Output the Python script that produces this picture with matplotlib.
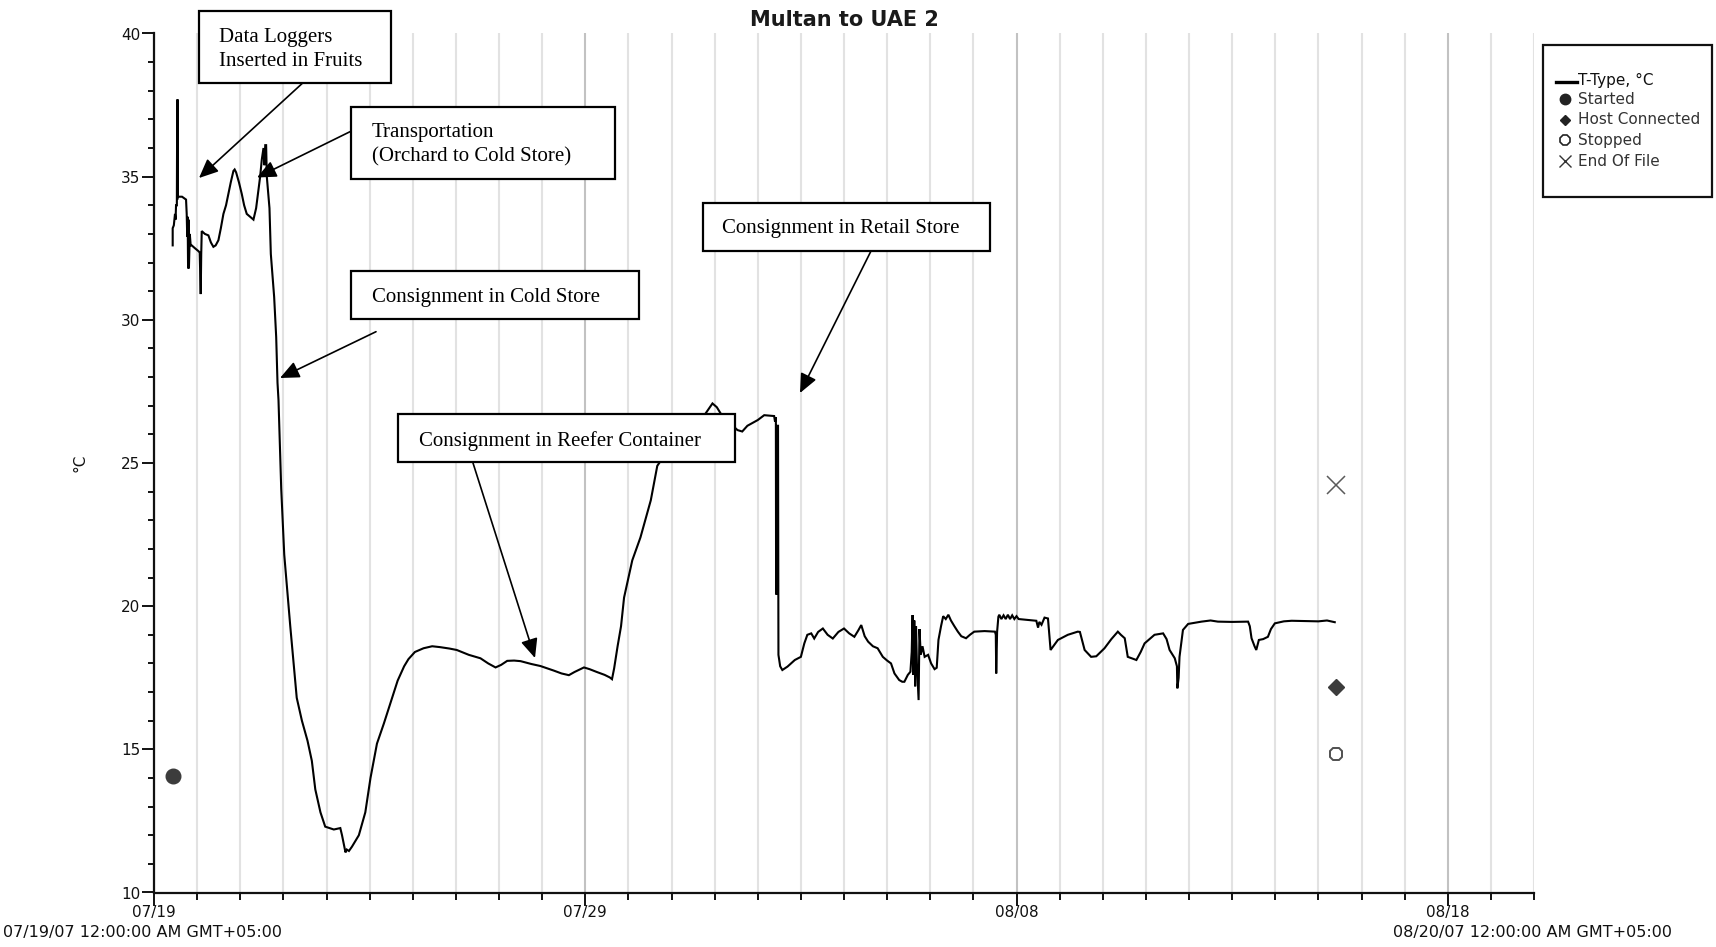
import numpy as np
import matplotlib
matplotlib.use("Agg")
import matplotlib.pyplot as plt
import matplotlib.dates as mdates
import matplotlib.ticker as mticker
from matplotlib.patches import Rectangle, FancyArrowPatch
from matplotlib.lines import Line2D

# ---------------------------------------------------------------- data
start_date = "2007-07-19"
end_date = "2007-08-20"
title = "Multan to UAE 2"
y_label = "°C"

# elapsed time since 07/19 00:00 (days) and logger temperature (°C)
elapsed_days = [
    0.433, 0.433, 0.46, 0.487, 0.50, 0.511, 0.53, 0.535, 0.54, 0.545, 0.55, 0.565,
    0.65, 0.743, 0.758, 0.77, 0.78, 0.79, 0.80, 0.81, 0.83, 0.851, 0.874, 0.95,
    1.03, 1.06, 1.083, 1.095, 1.107, 1.18, 1.261, 1.32, 1.377, 1.43, 1.494, 1.55,
    1.61, 1.67, 1.726, 1.78, 1.842, 1.87, 1.904, 1.97, 2.035, 2.09, 2.151, 2.23,
    2.306, 2.368, 2.42, 2.461, 2.50, 2.539, 2.56, 2.58, 2.60, 2.616, 2.65, 2.678,
    2.709, 2.75, 2.786, 2.833, 2.864, 2.887, 2.92, 2.95, 2.99, 3.02, 3.07, 3.16,
    3.25, 3.31, 3.43, 3.56, 3.66, 3.74, 3.86, 3.97, 4.17, 4.32, 4.36, 4.40, 4.44,
    4.47, 4.52, 4.59, 4.75, 4.90, 5.02, 5.17, 5.33, 5.48, 5.65, 5.80, 5.90, 6.05,
    6.25, 6.45, 6.63, 6.85, 7.02, 7.30, 7.57, 7.75, 7.92, 8.05, 8.19, 8.35, 8.50,
    8.75, 8.96, 9.27, 9.45, 9.62, 9.75, 9.97, 10.10, 10.27, 10.45, 10.57, 10.62,
    10.67, 10.75, 10.83, 10.90, 11.09, 11.28, 11.52, 11.67, 11.85, 12.05, 12.30,
    12.55, 12.79, 12.95, 13.05, 13.14, 13.35, 13.53, 13.64, 13.76, 14.00, 14.15,
    14.38, 14.40, 14.42, 14.425, 14.43, 14.435, 14.44, 14.445, 14.45, 14.47,
    14.48, 14.52, 14.57, 14.69, 14.86, 15.00, 15.08, 15.15, 15.24, 15.31, 15.40,
    15.51, 15.62, 15.74, 15.87, 16.00, 16.12, 16.24, 16.33, 16.40, 16.48, 16.56,
    16.67, 16.78, 16.90, 17.00, 17.09, 17.17, 17.28, 17.35, 17.40, 17.48, 17.54,
    17.57, 17.59, 17.61, 17.63, 17.65, 17.67, 17.69, 17.73, 17.75, 17.78, 17.82,
    17.87, 17.95, 18.02, 18.10, 18.15, 18.19, 18.25, 18.30, 18.36, 18.42, 18.48,
    18.56, 18.64, 18.72, 18.83, 18.92, 19.02, 19.26, 19.50, 19.52, 19.53, 19.55,
    19.58, 19.60, 19.65, 19.70, 19.75, 19.80, 19.85, 19.90, 19.95, 20.00, 20.05,
    20.46, 20.50, 20.53, 20.58, 20.65, 20.73, 20.79, 20.96, 21.19, 21.42, 21.47,
    21.58, 21.73, 21.85, 22.04, 22.20, 22.35, 22.42, 22.51, 22.58, 22.78, 22.88,
    22.97, 23.20, 23.40, 23.48, 23.55, 23.67, 23.72, 23.73, 23.76, 23.78, 23.86,
    23.98, 24.29, 24.50, 24.67, 25.00, 25.37, 25.41, 25.45, 25.52, 25.56, 25.62,
    25.72, 25.83, 25.90, 25.99, 26.20, 26.38, 26.70, 27.00, 27.20, 27.38,
]
temp_c = [
    32.6, 33.2, 33.3, 33.7, 33.5, 34.0, 34.0, 36.1, 34.2, 37.7, 34.3, 34.3,
    34.3, 34.2, 33.7, 32.9, 33.6, 31.8, 33.5, 31.8, 33.0, 32.6, 32.6, 32.5,
    32.4, 32.35, 30.9, 32.3, 33.1, 33.0, 32.95, 32.7, 32.55, 32.6, 32.78, 33.2,
    33.7, 34.0, 34.4, 34.8, 35.2, 35.25, 35.15, 34.8, 34.4, 34.0, 33.7, 33.6,
    33.5, 33.9, 34.5, 35.0, 35.6, 36.0, 35.4, 36.1, 36.1, 35.0, 34.4, 33.9,
    32.3, 31.5, 30.8, 29.4, 27.8, 27.2, 25.6, 24.1, 22.75, 21.8, 20.9, 19.3,
    17.8, 16.8, 16.0, 15.3, 14.6, 13.6, 12.8, 12.3, 12.2, 12.25, 12.0, 11.7, 11.4,
    11.5, 11.45, 11.6, 12.0, 12.8, 14.0, 15.2, 15.9, 16.6, 17.4, 17.9, 18.15, 18.4,
    18.53, 18.6, 18.57, 18.52, 18.47, 18.3, 18.18, 18.0, 17.86, 17.95, 18.09, 18.1, 18.08,
    17.98, 17.91, 17.75, 17.65, 17.59, 17.7, 17.86, 17.8, 17.7, 17.6, 17.51, 17.45,
    17.83, 18.6, 19.3, 20.3, 21.6, 22.4, 23.7, 24.9, 25.3, 25.7, 26.0,
    26.3, 26.73, 27.08, 26.95, 26.73, 26.4, 26.15, 26.1, 26.3, 26.5, 26.67,
    26.64, 26.45, 26.6, 21.0, 24.0, 20.4, 23.5, 21.3, 26.3, 26.3,
    18.3, 17.9, 17.77, 17.89, 18.12, 18.23, 18.7, 19.0, 19.05, 18.87, 19.1,
    19.22, 19.0, 18.87, 19.1, 19.22, 19.05, 18.93, 19.15, 19.34, 18.95, 18.76,
    18.6, 18.53, 18.23, 18.1, 18.0, 17.65, 17.42, 17.36, 17.36, 17.6, 17.71,
    18.4, 19.69, 17.6, 19.5, 17.2, 19.3, 18.0, 16.72, 19.2, 18.3, 18.6,
    18.23, 18.3, 18.0, 17.8, 17.85, 18.82, 19.3, 19.65, 19.55, 19.7, 19.5,
    19.3, 19.11, 18.95, 18.88, 19.0, 19.11, 19.13, 19.11, 19.0, 17.65, 19.1,
    19.63, 19.7, 19.55, 19.68, 19.55, 19.7, 19.55, 19.68, 19.55, 19.65, 19.55,
    19.49, 19.25, 19.45, 19.35, 19.6, 19.57, 18.47, 18.82, 19.0, 19.11, 19.1,
    18.47, 18.23, 18.25, 18.53, 18.85, 19.11, 19.0, 18.88, 18.23, 18.12, 18.4,
    18.7, 19.0, 19.05, 18.85, 18.47, 18.18, 17.9, 17.13, 17.5, 18.23, 19.17,
    19.38, 19.46, 19.5, 19.46, 19.45, 19.46, 19.3, 18.88, 18.6, 18.47, 18.82,
    18.85, 18.93, 19.2, 19.4, 19.47, 19.49, 19.48, 19.47, 19.5, 19.44,
]

# logger events: (elapsed days, plotted level °C)
event_names = ["Started", "Host Connected", "Stopped", "End Of File"]
event_days = [0.433, 27.40, 27.40, 27.40]
event_temp = [14.07, 17.19, 14.83, 24.23]

major_tick_dates = ["2007-07-19", "2007-07-29", "2007-08-08", "2007-08-18"]
y_ticks = [10, 15, 20, 25, 30, 35, 40]
start_stamp = "07/19/07 12:00:00 AM GMT+05:00"
end_stamp = "08/20/07 12:00:00 AM GMT+05:00"

# phase call-outs: text lines
callouts = [
    ["Data Loggers", "Inserted in Fruits"],
    ["Transportation", "(Orchard to Cold Store)"],
    ["Consignment in Cold Store"],
    ["Consignment in Reefer Container"],
    ["Consignment in Retail Store"],
]

# ---------------------------------------------------------------- helpers
W, H = 1716, 947
base = np.datetime64(start_date + "T00:00")


def to_time(days):
    mins = np.round(np.asarray(days, dtype=float) * 1440).astype("timedelta64[m]")
    return base + mins


def fx(x):
    return x / W


def fy(y):
    return 1 - y / H


# ---------------------------------------------------------------- figure
plt.rcParams["font.family"] = ["DejaVu Sans"]
fig = plt.figure(figsize=(W / 100, H / 100), dpi=100)
ax = fig.add_axes([fx(154), fy(892.5), (1534 - 154) / W, (892.5 - 33.5) / H])

t = to_time(elapsed_days)
ax.plot(t, temp_c, color="black", lw=1.5, zorder=3, solid_joinstyle="miter")

ev_t = to_time(event_days)
ev_styles = [
    dict(marker="o", ms=10.5, mfc="#3c3c3c", mec="#3c3c3c"),
    dict(marker="D", ms=8.5, mfc="#3c3c3c", mec="#3c3c3c"),
    dict(marker="8", ms=10, mfc="white", mec="#505050", mew=1.4),
    dict(marker="x", ms=13, mfc="none", mec="#5a5a5a", mew=1.1),
]
for tt, yy, st in zip(ev_t, event_temp, ev_styles):
    ax.plot([tt], [yy], linestyle="none", zorder=4, **st)

ax.set_xlim(np.datetime64(start_date), np.datetime64(end_date))
ax.set_ylim(min(y_ticks), max(y_ticks))

major_nums = mdates.date2num(np.array(major_tick_dates, dtype="datetime64[D]"))
ax.xaxis.set_major_locator(mticker.FixedLocator(major_nums))
ax.xaxis.set_major_formatter(mdates.DateFormatter("%m/%d"))
ax.xaxis.set_minor_locator(mdates.DayLocator())
ax.set_yticks(y_ticks)
ax.yaxis.set_minor_locator(mticker.MultipleLocator(1))

ax.grid(which="minor", axis="x", color="#e2e2e2", lw=1.5, zorder=0)
ax.grid(which="major", axis="x", color="#c2c2c2", lw=1.5, zorder=0)
ax.set_axisbelow(True)

for side in ("top", "right"):
    ax.spines[side].set_visible(False)
for side in ("left", "bottom"):
    ax.spines[side].set_linewidth(1.6)
    ax.spines[side].set_color("#111111")

ax.tick_params(axis="y", which="major", length=9, width=1.4, pad=1, labelsize=11, colors="#111111")
ax.tick_params(axis="y", which="minor", length=4.5, width=1.4, colors="#111111")
ax.tick_params(axis="x", which="major", length=9, width=1.4, pad=0, labelsize=11, colors="#111111")
ax.tick_params(axis="x", which="minor", length=5, width=1.4, colors="#111111")

# title, axis label, time stamps
fig.text(fx(844), fy(20), title, ha="center", va="center", fontsize=15,
         fontweight="bold", color="#1a1a1a")
fig.text(fx(80), fy(463), y_label, rotation=90, ha="center", va="center",
         fontsize=11, color="#111111")
fig.text(fx(3), fy(932.5), start_stamp, ha="left", va="center", fontsize=11.5, color="#111111")
fig.text(fx(1672), fy(932.5), end_stamp, ha="right", va="center", fontsize=11.5, color="#111111")

# ---------------------------------------------------------------- legend
fig.add_artist(Rectangle((fx(1543), fy(197)), (1712 - 1543) / W, (197 - 45) / H,
                         transform=fig.transFigure, fc="white", ec="#111111", lw=1.6))
leg_names = ["T-Type, °C"] + event_names
leg_y = [80, 99, 120, 140, 161]
fig.add_artist(Line2D([fx(1556), fx(1577)], [fy(82), fy(82)], transform=fig.transFigure,
                      color="black", lw=2.4))
leg_markers = [
    dict(marker="o", ms=7.5, mfc="#222222", mec="#222222"),
    dict(marker="D", ms=5.5, mfc="#222222", mec="#222222"),
    dict(marker="8", ms=7.5, mfc="white", mec="#222222", mew=1.2),
    dict(marker="x", ms=9, mec="#333333", mew=1.0),
]
for yy, st in zip(leg_y[1:], leg_markers):
    fig.add_artist(Line2D([fx(1565)], [fy(yy)], transform=fig.transFigure,
                          linestyle="none", **st))
for yy, name in zip(leg_y, leg_names):
    fig.text(fx(1578), fy(yy), name, ha="left", va="center", fontsize=11,
             color="#111111" if yy == leg_y[0] else "#333333")

# ---------------------------------------------------------------- call-outs
serif = "Liberation Serif"
boxes = [
    (199, 10.7, 391, 82.7),
    (350.7, 107.3, 615, 179),
    (350.7, 270.7, 639, 319.3),
    (398.3, 414.3, 735, 462.5),
    (702.6, 202.5, 990.4, 250.6),
]
text_left = [219, 371.7, 371.7, 419.3, 722.3]
text_base = [[41.7, 66], [136.7, 161.2], [301.7], [445.7], [233]]
arrows = [
    ((302.7, 83), (199, 178)),
    ((350, 131.7), (257, 177.5)),
    ((376, 331.7), (280, 378)),
    ((473, 463), (535, 658)),
    ((871, 251), (800, 393)),
]
for (x0, y0, x1, y1), lines, xl, bases in zip(boxes, callouts, text_left, text_base):
    fig.add_artist(Rectangle((fx(x0), fy(y1)), (x1 - x0) / W, (y1 - y0) / H,
                             transform=fig.transFigure, fc="white", ec="black",
                             lw=1.6, zorder=5))
    for s, yb in zip(lines, bases):
        fig.text(fx(xl), fy(yb), s, ha="left", va="baseline", fontsize=15,
                 family=serif, color="black", zorder=6)

for (xa, ya), (xb, yb) in arrows:
    fig.add_artist(FancyArrowPatch((fx(xa), fy(ya)), (fx(xb), fy(yb)),
                                   transform=fig.transFigure,
                                   arrowstyle="-|>,head_length=0.45,head_width=0.2",
                                   mutation_scale=26, lw=1.2, color="black",
                                   shrinkA=0, shrinkB=0, zorder=6))

fig.savefig("out.png", dpi=100)
